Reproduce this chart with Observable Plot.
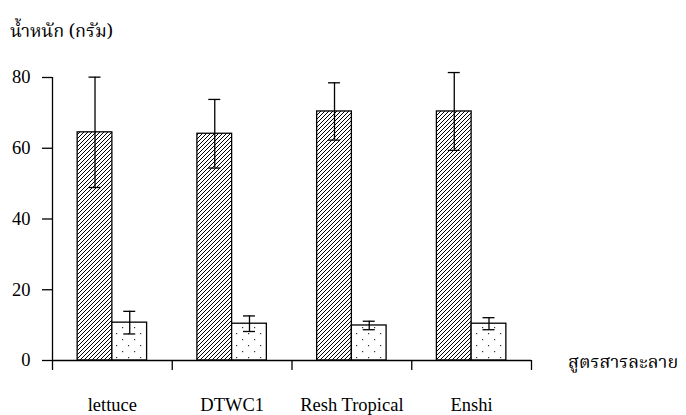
<!DOCTYPE html>
<html>
<head>
<meta charset="utf-8">
<script src="https://cdn.jsdelivr.net/npm/d3@7"></script>
<script src="https://cdn.jsdelivr.net/npm/@observablehq/plot@0.6"></script>
<style>
  html, body { margin: 0; padding: 0; background: #fff; }
  #wrap { position: relative; width: 686px; height: 415px; font-family: "Liberation Serif", "Times New Roman", serif; }
  #chart svg { display: block; }
  .thai { position: absolute; font-family: "Noto Serif Thai", "Noto Sans Thai", "Liberation Serif", "DejaVu Sans", serif; font-size: 18px; color: #000; white-space: nowrap; line-height: 1; }
  #ytitle { left: 10px; top: 24px; }
  #xtitle { left: 568px; top: 355px; }
</style>
</head>
<body>
<div id="wrap">
  <div id="chart"></div>
  <div id="ytitle" class="thai">น้ำหนัก (กรัม)</div>
  <div id="xtitle" class="thai">สูตรสารละลาย</div>
</div>
<script>
// ---- data ----
const categories = ["lettuce", "DTWC1", "Resh Tropical", "Enshi"];
const seriesNames = ["hatched", "dotted"];
const hatchedMeans = [64.5, 64.1, 70.4, 70.4];
const hatchedErrors = [15.6, 9.7, 8.1, 11.0];
const dottedMeans = [10.7, 10.4, 9.9, 10.4];
const dottedErrors = [3.2, 2.2, 1.2, 1.7];
const yTicks = [0, 20, 40, 60, 80];

// ---- layout constants (fractions of a category slot) ----
const groupPad = 0.21;     // empty space on each side of a bar pair
const capHalf = 0.05;      // half width of error-bar caps

const rows = [];
categories.forEach((c, i) => {
  const w = (1 - 2 * groupPad) / 2;
  [[hatchedMeans, hatchedErrors], [dottedMeans, dottedErrors]].forEach(([m, e], s) => {
    const x1 = i + groupPad + s * w;
    rows.push({cat: c, series: seriesNames[s], mean: m[i], err: e[i], x1, x2: x1 + w, mid: x1 + w / 2});
  });
});

const fills = {hatched: "url(#hatch)", dotted: "url(#dots)"};

const plot = Plot.plot({
  width: 686,
  height: 415,
  marginLeft: 52,
  marginRight: 155,
  marginTop: 77,
  marginBottom: 55,
  style: {fontFamily: "'Liberation Serif', 'Times New Roman', serif", fontSize: "18.5px", color: "#000", background: "#fff"},
  x: {type: "linear", domain: [0, categories.length], axis: null},
  y: {domain: [0, 80], axis: null},
  marks: [
    ...seriesNames.map(s => Plot.rectY(rows.filter(r => r.series === s), {
      x1: "x1", x2: "x2", y1: 0, y2: "mean", fill: fills[s], stroke: "#000", strokeWidth: 1.3
    })),
    Plot.ruleX(rows, {x: "mid", y1: d => d.mean - d.err, y2: d => d.mean + d.err, stroke: "#000", strokeWidth: 1.3}),
    Plot.ruleY(rows, {y: d => d.mean + d.err, x1: d => d.mid - capHalf, x2: d => d.mid + capHalf, stroke: "#000", strokeWidth: 1.3}),
    Plot.ruleY(rows, {y: d => d.mean - d.err, x1: d => d.mid - capHalf, x2: d => d.mid + capHalf, stroke: "#000", strokeWidth: 1.3}),
    Plot.ruleY([0], {stroke: "#000", strokeWidth: 1.3}),
    Plot.ruleX([0], {stroke: "#000", strokeWidth: 1.3}),
    Plot.axisY({ticks: yTicks, tickSize: 10, tickPadding: 12, label: null, strokeWidth: 1.3, tickFormat: d => d}),
    Plot.axisX({ticks: d3.range(categories.length + 1), tickSize: 10, tickFormat: () => "", label: null, strokeWidth: 1.3}),
    Plot.axisX({ticks: categories.map((c, i) => i + 0.5), tickSize: 0, tickPadding: 37, tickFormat: d => categories[Math.floor(d)], label: null})
  ]
});

// pattern definitions
const svg = d3.select(plot);
const defs = svg.insert("defs", ":first-child");
const hatch = defs.append("pattern").attr("id", "hatch").attr("patternUnits", "userSpaceOnUse")
  .attr("width", 4).attr("height", 4);
hatch.append("rect").attr("width", 4).attr("height", 4).attr("fill", "#fff");
hatch.append("path").attr("d", "M-1,1 L1,-1 M0,4 L4,0 M3,5 L5,3").attr("stroke", "#000").attr("stroke-width", 1.0);
const dots = defs.append("pattern").attr("id", "dots").attr("patternUnits", "userSpaceOnUse")
  .attr("width", 12).attr("height", 12);
dots.append("rect").attr("width", 12).attr("height", 12).attr("fill", "#fff");
dots.append("rect").attr("x", 2).attr("y", 3).attr("width", 1.2).attr("height", 1.2).attr("fill", "#333");
dots.append("rect").attr("x", 8).attr("y", 9).attr("width", 1.2).attr("height", 1.2).attr("fill", "#333");

document.getElementById("chart").appendChild(plot);
</script>
</body>
</html>
